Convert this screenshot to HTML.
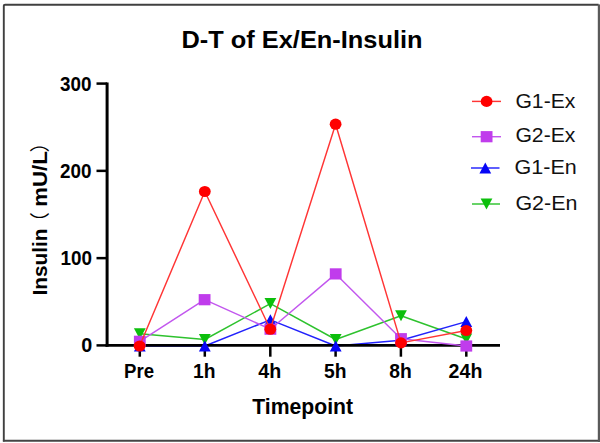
<!DOCTYPE html>
<html><head><meta charset="utf-8">
<style>
html,body{margin:0;padding:0;background:#fff;}
body{width:600px;height:443px;overflow:hidden;}
svg{display:block;}
text{font-family:"Liberation Sans","Noto Sans CJK SC",sans-serif;}
</style></head><body>
<svg width="600" height="443" viewBox="0 0 600 443">
<rect x="0" y="0" width="600" height="443" fill="#fff"/>
<path d="M3.8 441.5 V6 Q3.8 4.7 5.1 4.7 H598.6" fill="none" stroke="#404040" stroke-width="1.9"/>
<path d="M2.9 440.8 H598" fill="none" stroke="#444" stroke-width="2.1"/>
<rect x="597.8" y="4.4" width="2.2" height="437.6" fill="#5a5a5a"/>

<text x="181.5" y="47.5" font-size="24.5" font-weight="bold" fill="#000" textLength="241" lengthAdjust="spacingAndGlyphs">D-T of Ex/En-Insulin</text>
<text x="252.3" y="414" font-size="22" font-weight="bold" fill="#000" textLength="100.8" lengthAdjust="spacingAndGlyphs">Timepoint</text>
<text x="60" y="90.8" font-size="19.6" font-weight="bold" fill="#000" textLength="31.5" lengthAdjust="spacingAndGlyphs">300</text>
<text x="60" y="177.9" font-size="19.6" font-weight="bold" fill="#000" textLength="31.5" lengthAdjust="spacingAndGlyphs">200</text>
<text x="60.6" y="265.1" font-size="19.6" font-weight="bold" fill="#000" textLength="31.5" lengthAdjust="spacingAndGlyphs">100</text>
<text x="81.3" y="352.3" font-size="19.6" font-weight="bold" fill="#000" textLength="11" lengthAdjust="spacingAndGlyphs">0</text>
<text x="124" y="377.6" font-size="20.6" font-weight="bold" fill="#000" textLength="30" lengthAdjust="spacingAndGlyphs">Pre</text>
<text x="193" y="377.6" font-size="20.6" font-weight="bold" fill="#000" textLength="22.5" lengthAdjust="spacingAndGlyphs">1h</text>
<text x="258.2" y="377.6" font-size="20.6" font-weight="bold" fill="#000" textLength="23" lengthAdjust="spacingAndGlyphs">4h</text>
<text x="324" y="377.6" font-size="20.6" font-weight="bold" fill="#000" textLength="22.5" lengthAdjust="spacingAndGlyphs">5h</text>
<text x="389.3" y="377.6" font-size="20.6" font-weight="bold" fill="#000" textLength="22.5" lengthAdjust="spacingAndGlyphs">8h</text>
<text x="448.6" y="377.6" font-size="20.6" font-weight="bold" fill="#000" textLength="33.8" lengthAdjust="spacingAndGlyphs">24h</text>
<text x="515.4" y="107.6" font-size="21" font-weight="normal" fill="#111" textLength="60" lengthAdjust="spacingAndGlyphs">G1-Ex</text>
<text x="515.4" y="142.4" font-size="21" font-weight="normal" fill="#111" textLength="60" lengthAdjust="spacingAndGlyphs">G2-Ex</text>
<text x="514.6" y="174.2" font-size="21" font-weight="normal" fill="#111" textLength="62.2" lengthAdjust="spacingAndGlyphs">G1-En</text>
<text x="515.4" y="210.2" font-size="21" font-weight="normal" fill="#111" textLength="62" lengthAdjust="spacingAndGlyphs">G2-En</text>
<g transform="translate(46.5 0) rotate(-90)" font-size="20" font-weight="bold" fill="#000">
<text x="-295.5" y="0" textLength="67" lengthAdjust="spacingAndGlyphs">Insulin</text>
<text x="-232" y="0" font-weight="400" font-family="'Liberation Sans','Noto Sans CJK SC',sans-serif">（</text>
<text x="-206.8" y="0" textLength="55.5" lengthAdjust="spacingAndGlyphs">mU/L</text>
<text x="-152.5" y="0" font-weight="400" font-family="'Liberation Sans','Noto Sans CJK SC',sans-serif">）</text>
</g>
<polyline points="139.8,333.8 204.8,339.5 270.4,303.6 335.7,339.5 401.0,315.8 466.3,339.0" fill="none" stroke="#2ec22e" stroke-width="1.45" stroke-linejoin="round"/>
<polyline points="139.8,346.0 204.8,346.0 270.4,319.8 335.7,346.0 401.0,340.2 466.3,321.6" fill="none" stroke="#2222fc" stroke-width="1.45" stroke-linejoin="round"/>
<g stroke="#000" stroke-width="2.6" fill="none">
<path d="M107.1 82.5 V346.7" stroke-width="3.0"/>
<path d="M105.6 345.4 H500"/>
<path d="M96.5 345.40 H107.1" stroke-width="2.5"/>
<path d="M96.5 258.13 H107.1" stroke-width="2.5"/>
<path d="M96.5 170.86 H107.1" stroke-width="2.5"/>
<path d="M96.5 83.59 H107.1" stroke-width="2.5"/>
<path d="M139.8 345.4 V356.7" stroke-width="2.5"/>
<path d="M204.8 345.4 V356.7" stroke-width="2.5"/>
<path d="M270.3 345.4 V356.7" stroke-width="2.5"/>
<path d="M335.6 345.4 V356.7" stroke-width="2.5"/>
<path d="M400.9 345.4 V356.7" stroke-width="2.5"/>
<path d="M466.3 345.4 V356.7" stroke-width="2.5"/>
</g>
<g fill="#0cbf0c"><path d="M133.90 328.30 H145.70 L139.80 339.30 Z"/><path d="M198.90 334.00 H210.70 L204.80 345.00 Z"/><path d="M264.50 298.10 H276.30 L270.40 309.10 Z"/><path d="M329.80 334.00 H341.60 L335.70 345.00 Z"/><path d="M395.10 310.30 H406.90 L401.00 321.30 Z"/><path d="M460.40 333.50 H472.20 L466.30 344.50 Z"/></g>
<g fill="#0606f6"><path d="M139.80 340.50 L145.70 351.50 H133.90 Z"/><path d="M204.80 340.50 L210.70 351.50 H198.90 Z"/><path d="M270.40 314.30 L276.30 325.30 H264.50 Z"/><path d="M335.70 340.50 L341.60 351.50 H329.80 Z"/><path d="M401.00 334.70 L406.90 345.70 H395.10 Z"/><path d="M466.30 316.10 L472.20 327.10 H460.40 Z"/></g>
<polyline points="139.8,341.3 204.6,299.7 270.4,329.2 335.7,273.9 401.0,338.7 466.3,346.0" fill="none" stroke="#c257ee" stroke-width="1.45" stroke-linejoin="round"/>
<g fill="#c03cec"><rect x="133.90" y="335.70" width="11.8" height="11.2"/><rect x="198.70" y="294.10" width="11.8" height="11.2"/><rect x="264.50" y="323.60" width="11.8" height="11.2"/><rect x="329.80" y="268.30" width="11.8" height="11.2"/><rect x="395.10" y="333.10" width="11.8" height="11.2"/><rect x="460.40" y="340.40" width="11.8" height="11.2"/></g>
<polyline points="139.6,346.0 204.8,191.5 270.3,329.2 335.6,124.2 401.0,342.9 466.3,330.5" fill="none" stroke="#ff3535" stroke-width="1.45" stroke-linejoin="round"/>
<g fill="#ff0000"><ellipse cx="139.6" cy="346.0" rx="5.9" ry="5.6"/><ellipse cx="204.8" cy="191.5" rx="5.9" ry="5.6"/><ellipse cx="270.3" cy="329.2" rx="5.9" ry="5.6"/><ellipse cx="335.6" cy="124.2" rx="5.9" ry="5.6"/><ellipse cx="401.0" cy="342.9" rx="5.9" ry="5.6"/><ellipse cx="466.3" cy="330.5" rx="5.9" ry="5.6"/></g>
<g stroke-width="1.45">
<line x1="472" y1="101.4" x2="501" y2="101.4" stroke="#ff3535"/>
<line x1="472" y1="136.7" x2="501" y2="136.7" stroke="#c257ee"/>
<line x1="471" y1="168" x2="499.5" y2="168" stroke="#2222fc"/>
<line x1="472" y1="204" x2="500" y2="204" stroke="#2ec22e"/>
</g>
<ellipse cx="486.6" cy="101.4" rx="5.9" ry="5.6" fill="#ff0000"/>
<rect x="480.70" y="131.10" width="11.8" height="11.2" fill="#c03cec"/>
<path d="M485.30 162.50 L491.20 173.50 H479.40 Z" fill="#0606f6"/>
<path d="M480.60 198.50 H492.40 L486.50 209.50 Z" fill="#0cbf0c"/>
</svg>
</body></html>
